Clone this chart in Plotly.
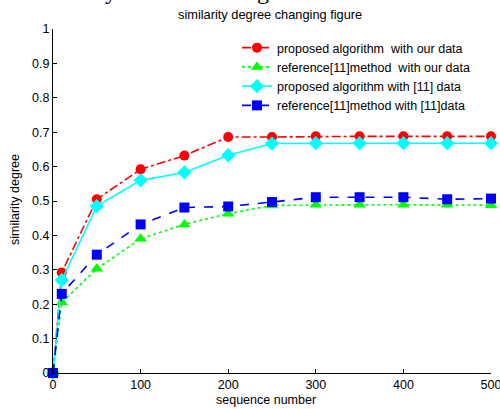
import plotly.graph_objects as go

seq = [0, 10, 50, 100, 150, 200, 250, 300, 350, 400, 450, 500]
proposed_our = [0, 0.292, 0.505, 0.592, 0.632, 0.686, 0.686, 0.688, 0.688, 0.688, 0.688, 0.688]
ref_our = [0, 0.205, 0.303, 0.390, 0.432, 0.463, 0.487, 0.489, 0.489, 0.489, 0.489, 0.488]
proposed_11 = [0, 0.270, 0.485, 0.560, 0.583, 0.633, 0.667, 0.668, 0.668, 0.668, 0.668, 0.668]
ref_11 = [0, 0.230, 0.344, 0.432, 0.481, 0.484, 0.497, 0.511, 0.511, 0.511, 0.505, 0.507]

names = ["proposed algorithm  with our data",
         "reference[11]method  with our data",
         "proposed algorithm with [11] data",
         "reference[11]method with [11]data"]

FONT = "Liberation Sans, Arial, sans-serif"

fig = go.Figure()
specs = [
    (proposed_our, names[0], "#ff0000", "dashdot", "circle", 10),
    (ref_our, names[1], "#00ff00", "dot", "triangle-up", 11),
    (proposed_11, names[2], "#00ffff", "solid", "diamond", 11),
    (ref_11, names[3], "#0000ff", "dash", "square", 10),
]
for ys, nm, col, dash, sym, ms in specs:
    fig.add_trace(go.Scatter(
        x=seq, y=ys, name=nm, mode="lines+markers",
        line=dict(color=col, width=1.6, dash=dash),
        marker=dict(symbol=sym, size=ms, color=col, line=dict(width=0)),
        cliponaxis=False,
    ))

L, R, T, B = 53, 9, 29, 36
PW = 500 - L - R
PH = 409 - T - B


def px(xp):
    return (xp - L) / PW


def py(yp):
    return (409 - B - yp) / PH


fig.update_layout(
    width=500, height=409,
    margin=dict(l=L, r=R, t=T, b=B, autoexpand=False),
    paper_bgcolor="white", plot_bgcolor="white",
    font=dict(family=FONT, size=12.5, color="black"),
    showlegend=True,
    legend=dict(x=px(237), y=py(33), xanchor="left", yanchor="top",
                bgcolor="rgba(0,0,0,0)", borderwidth=0,
                font=dict(family=FONT, size=12.5, color="black"),
                tracegroupgap=0, itemwidth=30),
    xaxis=dict(range=[0, 500], tickvals=[0, 100, 200, 300, 400, 500],
               showgrid=False, zeroline=False, showline=True,
               linecolor="black", linewidth=1, ticks="inside", ticklen=4,
               tickcolor="black", tickfont=dict(size=12.5),
               ticklabeloverflow="allow", automargin=False),
    yaxis=dict(range=[0, 1], tickvals=[0, 0.1, 0.2, 0.3, 0.4, 0.5, 0.6, 0.7, 0.8, 0.9, 1],
               showgrid=False, zeroline=False, showline=True,
               linecolor="black", linewidth=1, ticks="inside", ticklen=4,
               tickcolor="black", tickfont=dict(size=12.5),
               ticklabeloverflow="allow", automargin=False),
    annotations=[
        dict(text="similarity degree changing figure", xref="paper", yref="paper",
             x=px(270), y=py(14.5), xanchor="center", yanchor="middle",
             showarrow=False, font=dict(size=12.8)),
        dict(text="sequence number", xref="paper", yref="paper", x=px(266),
             y=py(400), xanchor="center", yanchor="middle", showarrow=False,
             font=dict(size=12.5)),
        dict(text="similarity degree", xref="paper", yref="paper", x=px(15),
             y=py(200), xanchor="center", yanchor="middle", textangle=-90,
             showarrow=False, font=dict(size=12.5)),
        dict(text="of similarity as shown in figure 9.", xref="paper", yref="paper",
             x=px(-3), y=py(6.5), xanchor="left", yanchor="bottom",
             showarrow=False, font=dict(family="Liberation Serif, Times New Roman, serif", size=24)),
    ],
)

fig.write_html("out.html", config={"displayModeBar": False},
               post_script="document.body.style.margin='0';document.body.style.overflow='hidden';")
